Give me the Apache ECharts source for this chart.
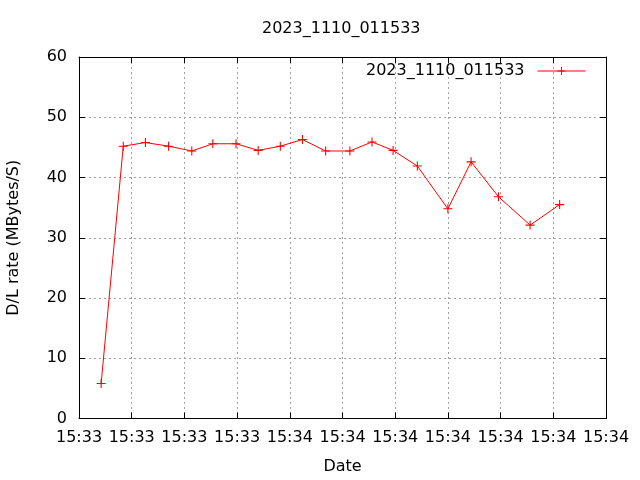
<!DOCTYPE html>
<html>
<head>
<meta charset="utf-8">
<script src="https://cdn.jsdelivr.net/npm/echarts@6/dist/echarts.min.js"></script>
<style>html,body{margin:0;padding:0;background:#fff}#c{width:640px;height:480px}</style>
</head>
<body>
<div id="c"></div>
<script>
// seconds after 15:33:00
var timeSec = [42.1, 44.2, 46.3, 48.5, 50.7, 52.7, 54.9, 57.0, 59.1, 61.2, 63.4, 65.7, 67.8, 69.8, 72.1, 75.0, 77.2, 79.8, 82.8, 85.6];
var rate = [5.8, 45.2, 45.8, 45.2, 44.4, 45.6, 45.6, 44.5, 45.2, 46.3, 44.4, 44.4, 45.9, 44.5, 41.9, 34.8, 42.6, 36.8, 32.1, 35.5];
var seriesName = '2023_1110_011533';
var titleText = '2023_1110_011533';
var xName = 'Date';
var yName = 'D/L rate (MBytes/S)';

var FONT = 'DejaVu Sans';
var data = timeSec.map(function (t, i) { return [t, rate[i]]; });
function fmtTime(v) {
  var m = 33 + Math.floor(v / 60 + 1e-9);
  return '15:' + (m < 10 ? '0' + m : m);
}
var gridLine = { show: true, lineStyle: { color: '#a0a0a0', width: 1, type: [2, 3] } };
var axLine = { show: true, onZero: false, lineStyle: { color: '#000', width: 1 } };
var tick = { show: true, inside: true, length: 6, lineStyle: { color: '#000', width: 1 } };
var chart = echarts.init(document.getElementById('c'), null, { renderer: 'canvas' });
chart.setOption({
  animation: false,
  backgroundColor: '#fff',
  textStyle: { fontFamily: FONT },
  title: {
    text: titleText, left: 257, top: 16,
    textStyle: { fontFamily: FONT, fontSize: 16, fontWeight: 'normal', color: '#000' }
  },
  legend: {
    data: [seriesName], right: 49, top: 58, align: 'right',
    itemWidth: 48, itemHeight: 10, itemGap: 10,
    lineStyle: { width: 1 },
    textStyle: { fontFamily: FONT, fontSize: 16, color: '#000', padding: [0, 8, 0, 0] }
  },
  grid: { left: 79, right: 34, top: 57, bottom: 61.5, containLabel: false, outerBoundsMode: 'none' },
  xAxis: [{
    type: 'value', min: 40, max: 90, interval: 5,
    name: xName, nameLocation: 'middle', nameGap: 40,
    nameTextStyle: { fontFamily: FONT, fontSize: 16, color: '#000' },
    axisLine: axLine, axisTick: tick, splitLine: gridLine,
    axisLabel: { formatter: fmtTime, fontFamily: FONT, fontSize: 16, color: '#000', margin: 11, showMinLabel: true, showMaxLabel: true, hideOverlap: false }
  }, {
    type: 'value', position: 'top', min: 40, max: 90, interval: 5,
    axisLine: axLine, axisTick: tick, splitLine: { show: false }, axisLabel: { show: false }
  }],
  yAxis: [{
    type: 'value', min: 0, max: 60, interval: 10,
    name: yName, nameLocation: 'middle', nameGap: 57, nameRotate: 90,
    nameTextStyle: { fontFamily: FONT, fontSize: 16, color: '#000' },
    axisLine: axLine, axisTick: tick, splitLine: gridLine,
    axisLabel: { fontFamily: FONT, fontSize: 16, color: '#000', margin: 12 }
  }, {
    type: 'value', position: 'right', min: 0, max: 60, interval: 10,
    axisLine: axLine, axisTick: tick, splitLine: { show: false }, axisLabel: { show: false }
  }],
  series: [{
    name: seriesName, type: 'line', data: data,
    xAxisIndex: 0, yAxisIndex: 0,
    symbol: 'path://M4.4,0H5.6V4.4H10V5.6H5.6V10H4.4V5.6H0V4.4H4.4Z',
    symbolSize: 9, showAllSymbol: true,
    lineStyle: { color: '#ff0000', width: 1 },
    itemStyle: { color: '#ff0000' },
    emphasis: { disabled: true }
  }]
});
</script>
</body>
</html>
